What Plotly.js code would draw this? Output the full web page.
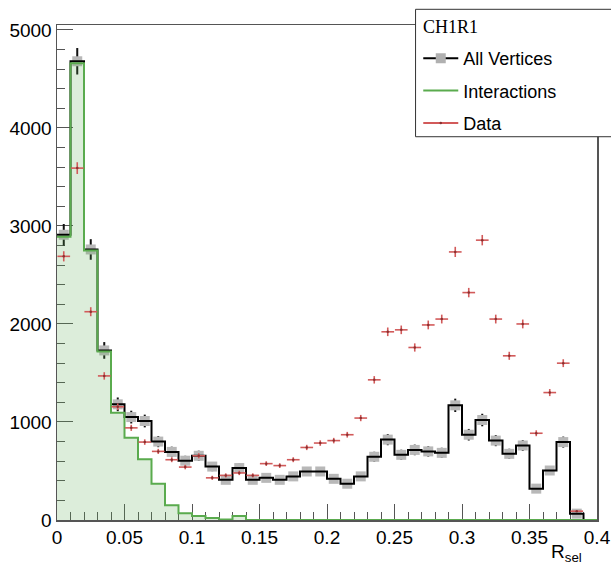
<!DOCTYPE html>
<html><head><meta charset="utf-8">
<script src="https://cdn.plot.ly/plotly-3.0.1.min.js"></script>
<style>html,body{margin:0;padding:0;background:#fff;overflow:hidden}</style>
</head><body><div id="chart" style="width:611px;height:566px"></div>
<script>
// Bin edges of R_sel (40 bins of width 0.01)
const binEdges = [0,0.01,0.02,0.03,0.04,0.05,0.06,0.07,0.08,0.09,0.10,0.11,0.12,0.13,0.14,0.15,0.16,0.17,0.18,0.19,0.20,
  0.21,0.22,0.23,0.24,0.25,0.26,0.27,0.28,0.29,0.30,0.31,0.32,0.33,0.34,0.35,0.36,0.37,0.38,0.39,0.40];

// All Vertices (black histogram, grey boxes)
const allVertices = [2910,4680,2760,1730,1180,1050,1010,800,695,605,655,545,410,530,410,430,410,445,495,495,
  420,370,445,645,820,665,715,700,685,1170,870,1020,810,675,760,320,505,795,65,0];
const allVerticesErr = [110,135,105,85,70,65,65,57,53,50,52,47,41,46,41,42,41,42,45,45,
  41,38,42,51,57,52,54,53,52,68,59,64,57,52,55,36,45,56,16,0];

// Interactions (green filled histogram)
const interactions = [2890,4660,2750,1720,1095,840,620,370,150,70,40,20,5,40,0,0,0,0,0,0,
  0,0,0,0,0,0,0,0,0,0,0,0,0,0,0,0,0,0,0,0];

// Data (red crosses)
const dataCounts = [2690,3590,2125,1470,1155,940,795,700,615,540,655,430,455,480,455,575,555,615,740,785,
  810,870,1040,1430,1920,1940,1760,1990,2050,2735,2320,2855,2050,1675,2000,885,1300,1600,90,null];
const dataErr = [52,60,46,38,34,31,28,26,25,23,26,21,21,22,21,24,24,25,27,28,
  28,29,32,38,44,44,42,45,45,52,48,53,45,41,45,30,36,40,9,0];

const xTickVals = [0,0.05,0.1,0.15,0.2,0.25,0.3,0.35,0.4];
const xTickText = ['0','0.05','0.1','0.15','0.2','0.25','0.3','0.35','0.4'];
const yTickVals = [0,1000,2000,3000,4000,5000];
const yTickText = ['0','1000','2000','3000','4000','5000'];
const legendTitle = 'CH1R1';
const xTitle = 'R<sub>sel</sub>';

const centers = binEdges.slice(0,-1).map((e,i)=>(e+binEdges[i+1])/2);
const stepOf = arr => arr.map(v => v === null ? 0 : v).concat([arr[arr.length-1] || 0]);
const markerY = allVertices.map(v => v > 0 ? v : null);

const FONT = 'Liberation Sans, Arial, Helvetica, sans-serif';
const RED = '#d25a5a';
const GREEN = '#5aab4e';

const traces = [
  { // grey boxes + black error bars
    type:'scatter', mode:'markers', x:centers, y:markerY, showlegend:false, hoverinfo:'skip',
    marker:{symbol:'square', size:10, color:'#b8b8b8', line:{width:0}},
    error_y:{type:'data', array:allVerticesErr, visible:true, color:'#111', thickness:2, width:0}
  },
  { // black step histogram
    type:'scatter', mode:'lines', x:binEdges, y:stepOf(allVertices), showlegend:false, hoverinfo:'skip',
    line:{shape:'hv', color:'#000', width:2}
  },
  { // green filled step histogram
    type:'scatter', mode:'lines', x:binEdges, y:stepOf(interactions), showlegend:false, hoverinfo:'skip',
    line:{shape:'hv', color:GREEN, width:2}, fill:'tozeroy', fillcolor:'rgba(90,171,78,0.21)'
  },
  { // data crosses
    type:'scatter', mode:'markers', x:centers, y:dataCounts, showlegend:false, hoverinfo:'skip',
    marker:{symbol:'circle', size:2.5, color:'#8a3030'},
    error_y:{type:'data', array:dataErr, visible:true, color:RED, thickness:1.6, width:0},
    error_x:{type:'constant', value:0.0047, visible:true, color:RED, thickness:1.6, width:0}
  },
  // legend entries
  { type:'scatter', mode:'lines+markers', x:[null], y:[null], name:'All Vertices', legendgroup:'a',
    line:{color:'#000', width:2}, marker:{symbol:'square', size:10, color:'#b0b0b0'} },
  { type:'scatter', mode:'lines', x:[null], y:[null], name:'Interactions', legendgroup:'b',
    line:{color:GREEN, width:2} },
  { type:'scatter', mode:'lines+markers', x:[null], y:[null], name:'Data', legendgroup:'c',
    line:{color:RED, width:2}, marker:{symbol:'circle', size:2.5, color:'#8a3030'} }
];

const axisCommon = {
  showline:true, linecolor:'#555', linewidth:1.5, mirror:true, showgrid:false, zeroline:false,
  ticks:'inside', ticklen:16, tickwidth:1, tickcolor:'#555', layer:'below traces',
  tickfont:{family:FONT, size:19, color:'#000'}
};

const layout = {
  width:611, height:566,
  margin:{l:57, r:14, t:25, b:46, autoexpand:false},
  paper_bgcolor:'#fff', plot_bgcolor:'#fff',
  font:{family:FONT, color:'#000'},
  xaxis: Object.assign({}, axisCommon, {
    range:[0,0.4], tickmode:'array', tickvals:xTickVals, ticktext:xTickText,
    minor:{dtick:0.01, tick0:0, ticks:'inside', ticklen:8, tickcolor:'#555', tickwidth:1, showgrid:false}
  }),
  yaxis: Object.assign({}, axisCommon, {
    range:[0,5050], tickmode:'array', tickvals:yTickVals, ticktext:yTickText,
    minor:{dtick:200, tick0:0, ticks:'inside', ticklen:8, tickcolor:'#555', tickwidth:1, showgrid:false}
  }),
  showlegend:true,
  legend:{
    x:0.669, y:0.9697, xanchor:'left', yanchor:'top',
    bgcolor:'rgba(0,0,0,0)', borderwidth:0,
    font:{family:FONT, size:18, color:'#000'},
    traceorder:'grouped', tracegroupgap:6, itemwidth:35
  },
  shapes:[
    {type:'rect', xref:'paper', yref:'paper', x0:0.664, x1:1.1, y0:0.7743, y1:1.0317,
     fillcolor:'#fff', line:{color:'#333', width:1}, layer:'above'}
  ],
  annotations:[
    {xref:'paper', yref:'paper', x:0.674, y:0.996, xanchor:'left', yanchor:'middle', showarrow:false,
     text:legendTitle, font:{family:'Liberation Serif, Times New Roman, serif', size:18, color:'#000'}},
    {xref:'paper', yref:'paper', x:0.976, y:-0.067, xanchor:'right', yanchor:'middle', showarrow:false,
     text:xTitle, font:{family:FONT, size:19, color:'#000'}}
  ]
};

Plotly.newPlot('chart', traces, layout, {staticPlot:true, displayModeBar:false});
</script></body></html>
